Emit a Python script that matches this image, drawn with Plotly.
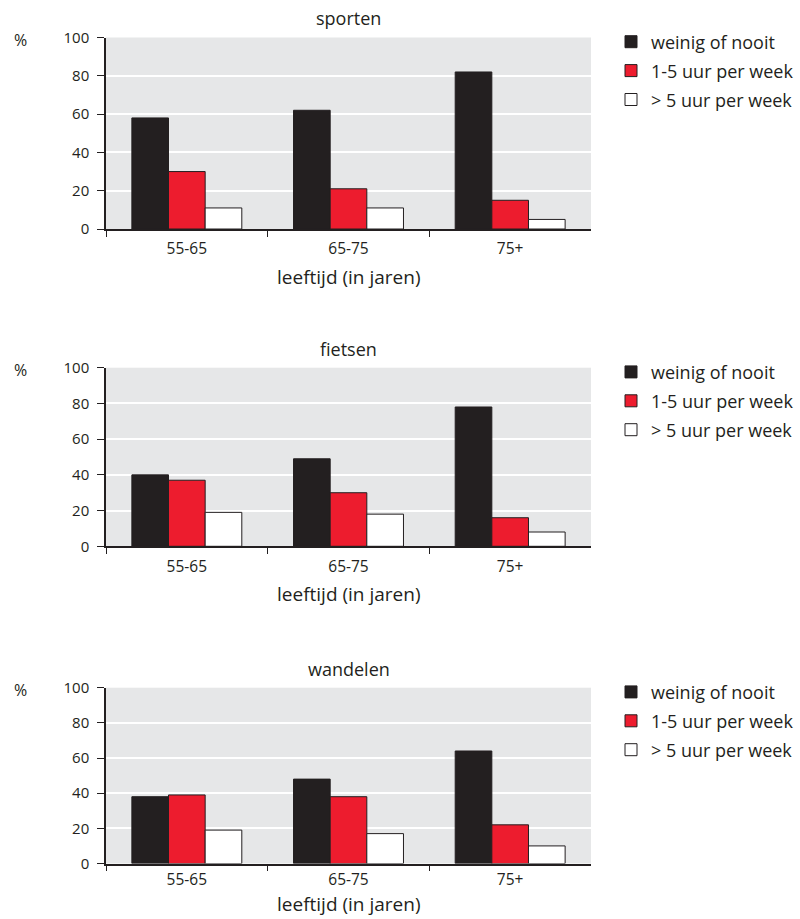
import plotly.graph_objects as go

# Age groups and activity frequency classes
categories = ["55-65", "65-75", "75+"]
series_names = ["weinig of nooit", "1-5 uur per week", "> 5 uur per week"]

# Percentages per activity (one list per frequency class)
sporten_weinig = [58, 62, 82]
sporten_1_5 = [30, 21, 15]
sporten_meer5 = [11, 11, 5]

fietsen_weinig = [40, 49, 78]
fietsen_1_5 = [37, 30, 16]
fietsen_meer5 = [19, 18, 8]

wandelen_weinig = [38, 48, 64]
wandelen_1_5 = [39, 38, 22]
wandelen_meer5 = [19, 17, 10]

panel_titles = ["sporten", "fietsen", "wandelen"]
y_ticks = [0, 20, 40, 60, 80, 100]

W, H = 800, 919
FONT = "Open Sans"
INK = "#231f20"
RED = "#ed1c2e"
BG = "#e6e7e8"
colors = [INK, RED, "#ffffff"]

panels = [
    (sporten_weinig, sporten_1_5, sporten_meer5),
    (fietsen_weinig, fietsen_1_5, fietsen_meer5),
    (wandelen_weinig, wandelen_1_5, wandelen_meer5),
]

# pixel layout of each panel: (top, bottom) of plot area
rows_px = [(37.5, 229.0), (367.7, 546.3), (687.7, 863.5)]
xlabel_standoff = [5, 5, 1]
x_left, x_right = 106, 591


def fy(py):
    return 1 - py / H


def fx(px):
    return px / W


fig = go.Figure()
layout = dict(
    template="none",
    width=W, height=H,
    margin=dict(l=0, r=0, t=0, b=0, pad=0, autoexpand=False),
    paper_bgcolor="white",
    plot_bgcolor=BG,
    barmode="group",
    bargap=0.32,
    bargroupgap=0,
    font=dict(family=FONT, size=15, color=INK),
    annotations=[],
)

for i, (vals, (top, bot)) in enumerate(zip(panels, rows_px)):
    n = "" if i == 0 else str(i + 1)
    leg = "legend" + n
    for name, v, c in zip(series_names, vals, colors):
        fig.add_trace(go.Bar(
            x=categories, y=v, name=name,
            marker=dict(color=c, line=dict(color=INK, width=1)),
            xaxis="x" + n, yaxis="y" + n,
            legend=leg, legendgroup=f"{leg}_{name}",
            hoverinfo="x+y+name",
        ))
    layout["xaxis" + n] = dict(
        domain=[fx(x_left), fx(x_right)],
        anchor="y" + n,
        type="category",
        tickson="boundaries",
        ticks="outside", ticklen=6, tickwidth=1.2, tickcolor=INK,
        ticklabelstandoff=xlabel_standoff[i],
        showline=True, linecolor=INK, linewidth=1.5,
        showgrid=False, zeroline=False, automargin=False,
        tickfont=dict(size=15.5, color=INK),
    )
    layout["yaxis" + n] = dict(
        domain=[fy(bot), fy(top)],
        anchor="x" + n,
        range=[0, 100],
        tickvals=y_ticks,
        ticks="outside", ticklen=7, tickwidth=1.2, tickcolor=INK,
        ticklabelstandoff=5,
        showline=True, linecolor=INK, linewidth=1.5,
        showgrid=True, gridcolor="white", gridwidth=1.5,
        zeroline=False, automargin=False,
        tickfont=dict(size=15, color=INK),
    )
    layout[leg] = dict(
        x=fx(611), xanchor="left",
        y=fy(top - 14), yanchor="top",
        bgcolor="rgba(0,0,0,0)",
        font=dict(size=18, color=INK),
        traceorder="grouped", tracegroupgap=2.5,
        itemclick=False, itemdoubleclick=False,
    )
    # panel title
    layout["annotations"].append(dict(
        text=panel_titles[i], xref="paper", yref="paper",
        x=fx((x_left + x_right) / 2), y=fy(top - 19),
        xanchor="center", yanchor="middle", showarrow=False,
        font=dict(size=18, color=INK),
    ))
    # unit label
    layout["annotations"].append(dict(
        text="%", xref="paper", yref="paper",
        x=fx(20), y=fy(top + 2),
        xanchor="center", yanchor="middle", showarrow=False,
        font=dict(size=16, color=INK),
    ))
    # x-axis title (the last one sits on the bottom edge of the page)
    if i < 2:
        xt = dict(y=fy(bot + 48), yanchor="middle")
    else:
        xt = dict(y=0, yanchor="bottom")
    layout["annotations"].append(dict(
        text="leeftijd (in jaren)", xref="paper", yref="paper",
        x=fx((x_left + x_right) / 2), xanchor="center", showarrow=False,
        font=dict(size=19, color=INK), **xt,
    ))

fig.update_layout(**layout)
fig.write_html("out.html")
